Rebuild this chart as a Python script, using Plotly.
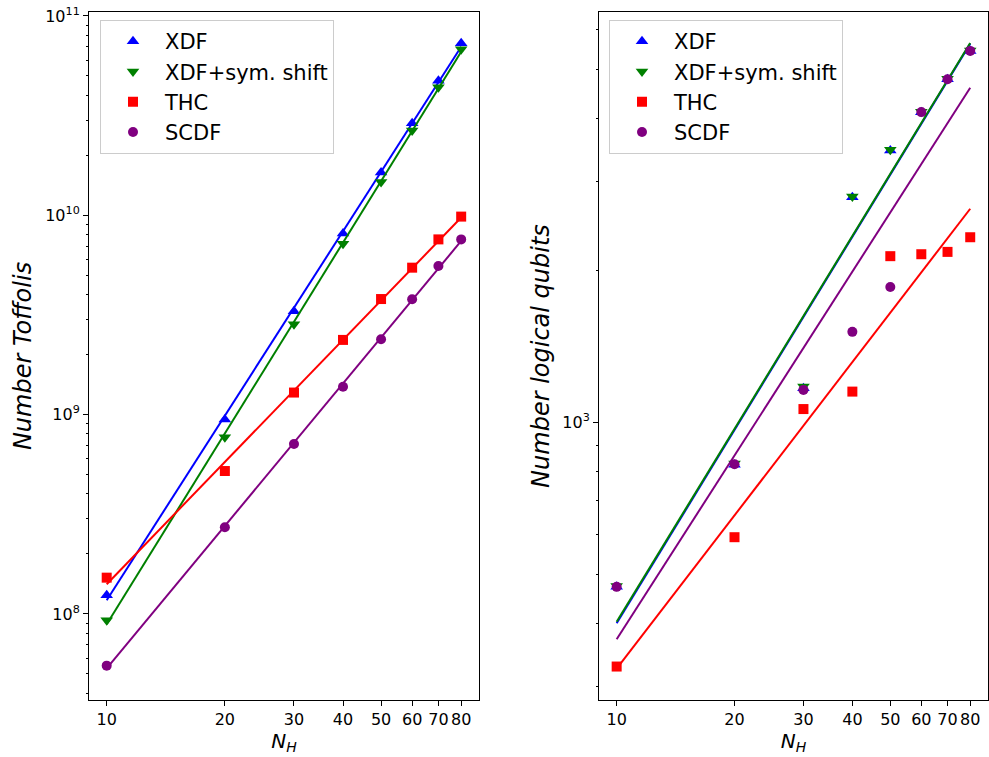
import numpy as np
import plotly.graph_objects as go

# ---------------- data ----------------
N_H = [10, 20, 30, 40, 50, 60, 70, 80]

# Left panel: number of Toffolis
tof_xdf = [1.24e8, 9.46e8, 3.30e9, 8.10e9, 1.64e10, 2.90e10, 4.73e10, 7.30e10]
tof_xdf_sym = [9.3e7, 7.7e8, 2.84e9, 7.20e9, 1.47e10, 2.66e10, 4.39e10, 6.80e10]
tof_thc = [1.52e8, 5.21e8, 1.29e9, 2.37e9, 3.80e9, 5.46e9, 7.57e9, 9.85e9]
tof_scdf = [5.5e7, 2.72e8, 7.12e8, 1.38e9, 2.39e9, 3.79e9, 5.57e9, 7.57e9]

# Right panel: number of logical qubits
q_xdf = [473, 825, 1169, 2790, 3450, 4110, 4775, 5433]
q_xdf_sym = [475, 830, 1178, 2800, 3465, 4120, 4785, 5440]
q_thc = [329, 593, 1063, 1151, 2133, 2152, 2175, 2325]
q_scdf = [473, 827, 1160, 1511, 1854, 4111, 4775, 5433]

names = ["XDF", "XDF+sym. shift", "THC", "SCDF"]
colors = ["blue", "green", "red", "purple"]
symbols = ["triangle-up", "triangle-down", "square", "circle"]
msizes = [11, 11, 10, 10]

x_ticks = [10, 20, 30, 40, 50, 60, 70, 80]


def powerfit(x, y):
    lx, ly = np.log10(x), np.log10(y)
    b, a = np.polyfit(lx, ly, 1)
    return (10 ** (a + b * lx)).tolist()


fig = go.Figure()

panels = [
    ("x", "y", "legend", [tof_xdf, tof_xdf_sym, tof_thc, tof_scdf]),
    ("x2", "y2", "legend2", [q_xdf, q_xdf_sym, q_thc, q_scdf]),
]

for xa, ya, lg, series in panels:
    for name, col, sym, ms, vals in zip(names, colors, symbols, msizes, series):
        fig.add_trace(go.Scatter(
            x=N_H, y=vals, mode="markers", name=name,
            marker=dict(symbol=sym, color=col, size=ms, line=dict(width=0)),
            xaxis=xa, yaxis=ya, legend=lg,
        ))
        fig.add_trace(go.Scatter(
            x=N_H, y=powerfit(N_H, vals), mode="lines",
            line=dict(color=col, width=2), showlegend=False,
            xaxis=xa, yaxis=ya, hoverinfo="skip",
        ))


def minor_vals(lo_exp, hi_exp):
    out = []
    for e in range(lo_exp, hi_exp + 1):
        for m in range(2, 10):
            out.append(m * 10 ** e)
    return out


W, H = 989, 757
ydom = [1 - 700 / H, 1 - 12 / H]
font_fam = "DejaVu Sans"

xaxis_common = dict(
    type="log", range=[0.9549, 1.9485],
    tickvals=x_ticks, ticktext=[str(v) for v in x_ticks],
    ticks="outside", ticklen=5, tickwidth=1, tickcolor="black",
    showline=True, linecolor="black", linewidth=1, mirror=True,
    showgrid=False, zeroline=False,
    tickfont=dict(size=16, family=font_fam, color="black"),
    title=dict(text="<i>N</i><sub><i>H</i></sub>", font=dict(size=20, family=font_fam, color="black"), standoff=5),
    automargin=False,
)

yaxis_common = dict(
    type="log",
    ticks="outside", ticklen=5, tickwidth=1, tickcolor="black",
    showline=True, linecolor="black", linewidth=1, mirror=True,
    showgrid=False, zeroline=False,
    tickfont=dict(size=16, family=font_fam, color="black"),
    automargin=False,
    domain=ydom,
)

legend_common = dict(
    yanchor="top", xanchor="left",
    bgcolor="rgba(255,255,255,0.8)", bordercolor="#cccccc", borderwidth=1,
    font=dict(size=21, family=font_fam, color="black"), itemwidth=54,
    tracegroupgap=0,
)

fig.update_layout(
    width=W, height=H,
    margin=dict(l=0, r=0, t=0, b=0),
    paper_bgcolor="white", plot_bgcolor="white",
    font=dict(family=font_fam, color="black"),
    xaxis=dict(xaxis_common, domain=[89 / W, 479 / W], anchor="y"),
    xaxis2=dict(xaxis_common, domain=[599 / W, 988 / W], anchor="y2"),
    yaxis=dict(
        yaxis_common, anchor="x", range=[7.568, 11.02],
        tickvals=[1e8, 1e9, 1e10, 1e11],
        ticktext=["10<sup>8</sup>", "10<sup>9</sup>", "10<sup>10</sup>", "10<sup>11</sup>"],
        minor=dict(tickvals=minor_vals(7, 10), ticks="outside", ticklen=2.5, tickcolor="black", showgrid=False),
        title=dict(text="<i>Number Toffolis</i>", font=dict(size=24, family=font_fam, color="black"), standoff=6),
    ),
    yaxis2=dict(
        yaxis_common, anchor="x2", range=[2.451, 3.812],
        tickvals=[1e3], ticktext=["10<sup>3</sup>"],
        minor=dict(tickvals=minor_vals(2, 3), ticks="outside", ticklen=2.5, tickcolor="black", showgrid=False),
        title=dict(text="<i>Number logical qubits</i>", font=dict(size=24, family=font_fam, color="black"), standoff=5),
    ),
    legend=dict(legend_common, x=100 / W, y=1 - 20 / H),
    legend2=dict(legend_common, x=609 / W, y=1 - 20 / H),
)

fig.write_html(
    "out.html",
    config={"displayModeBar": False},
    post_script="document.body.style.margin='0';document.body.style.overflow='hidden';",
)
